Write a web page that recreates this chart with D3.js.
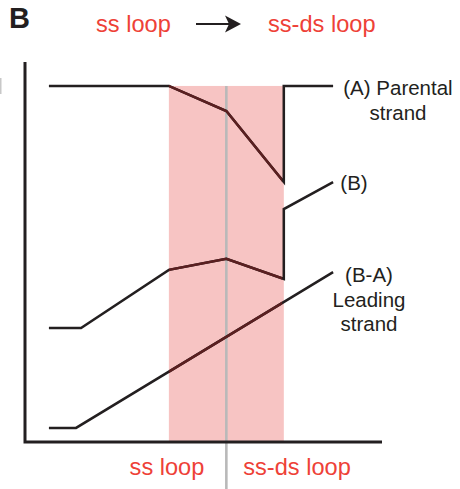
<!DOCTYPE html>
<html><head><meta charset="utf-8">
<script src="https://cdn.jsdelivr.net/npm/d3@7"></script>
<style>
html,body{margin:0;padding:0;background:#fff;}
svg{display:block;font-family:"Liberation Sans",Arial,Helvetica,sans-serif;}
</style></head>
<body>
<svg id="chart" width="460" height="489"></svg>
<script>
// ---- data ----
const panelLabel = "B";
const topLabels = ["ss loop", "ss-ds loop"];
const bottomLabels = ["ss loop", "ss-ds loop"];
const loopRegion = [40.3, 72.5];      // x-range of shaded ss/ss-ds loop
const transitionX = 56.4;             // ss loop -> ss-ds loop boundary
const regionTop = 93.7;
const parental = [[6.7,93.7],[40.3,93.7],[56.4,87.1],[72.5,68.4],[72.5,93.7],[86.3,93.7]];
const strandB  = [[6.7,30],[15.7,30],[40.3,45.3],[56.4,48.2],[72.5,42.9],[72.5,61.3],[86.3,68.4]];
const leading  = [[6.7,3.7],[14.3,3.7],[86.3,44.7]];
const seriesLabels = [
  {lines:["(A) Parental","strand"], x:97.5, y:93.7},
  {lines:["(B)"], x:88.2, y:68.4},
  {lines:["(B-A)","Leading","strand"], x:96.4, y:44.7}
];

// ---- drawing ----
const svg = d3.select("#chart");
const x = d3.scaleLinear().domain([0,100]).range([25,382]);
const y = d3.scaleLinear().domain([0,100]).range([442,62]);
const red = "#ee4137", ink = "#231f20", maroon = "#5b1f20";

// shaded region
svg.append("rect")
  .attr("x", x(loopRegion[0])).attr("y", y(regionTop))
  .attr("width", x(loopRegion[1]) - x(loopRegion[0]))
  .attr("height", y(0) - y(regionTop))
  .attr("fill", "#f7c4c3");

// grey divider
svg.append("line")
  .attr("x1", x(transitionX)).attr("x2", x(transitionX))
  .attr("y1", y(regionTop)).attr("y2", 489)
  .attr("stroke", "#b9b9b9").attr("stroke-width", 2.6);

// axes
svg.append("path")
  .attr("d", d3.line()([[x(0), y(100)], [x(0), y(0)], [x(100), y(0)]]))
  .attr("fill", "none").attr("stroke", ink).attr("stroke-width", 3);

// small grey edge mark
svg.append("rect").attr("x",0).attr("y",78).attr("width",1.5).attr("height",16).attr("fill","#c8c8c8");

// clip for region
svg.append("clipPath").attr("id","rclip").append("rect")
  .attr("x", x(loopRegion[0])).attr("y", 0)
  .attr("width", x(loopRegion[1]) - x(loopRegion[0]) - 1.6)
  .attr("height", 489);

const line = d3.line().x(d => x(d[0])).y(d => y(d[1]));
[parental, strandB, leading].forEach(s => {
  svg.append("path").attr("d", line(s)).attr("fill","none")
    .attr("stroke", ink).attr("stroke-width", 2.5).attr("stroke-linejoin","miter");
  svg.append("path").attr("d", line(s)).attr("fill","none")
    .attr("clip-path","url(#rclip)")
    .attr("stroke", maroon).attr("stroke-width", 2.5).attr("stroke-linejoin","miter");
});

// series labels
const lblY = [[95,120],[190],[282,307,331]];
const lblX = [398, 354, 369];
seriesLabels.forEach((l, i) => {
  const t = svg.append("text").attr("font-size", 20.5).attr("fill", ink)
    .attr("text-anchor", "middle");
  l.lines.forEach((s, j) => {
    t.append("tspan").attr("x", lblX[i]).attr("y", lblY[i][j]).text(s);
  });
});

// panel letter
svg.append("text").attr("x", 9).attr("y", 28).attr("font-size", 29)
  .attr("font-weight", "bold").attr("fill", ink).text(panelLabel);

// top labels with arrow
svg.append("text").attr("x", 96).attr("y", 32).attr("font-size", 23.6).attr("fill", red).text(topLabels[0]);
svg.append("text").attr("x", 268).attr("y", 32).attr("font-size", 23.6).attr("fill", red).text(topLabels[1]);
svg.append("line").attr("x1",196).attr("x2",230).attr("y1",24).attr("y2",24)
  .attr("stroke", ink).attr("stroke-width", 2);
svg.append("path").attr("d","M225,15.5 L241,24 L225,32.5 L229,24 Z").attr("fill", ink);

// bottom labels
svg.append("text").attr("x", 167).attr("y", 475).attr("font-size", 23.6)
  .attr("text-anchor","middle").attr("fill", red).text(bottomLabels[0]);
svg.append("text").attr("x", 297).attr("y", 475).attr("font-size", 23.6)
  .attr("text-anchor","middle").attr("fill", red).text(bottomLabels[1]);
</script>
</body></html>
